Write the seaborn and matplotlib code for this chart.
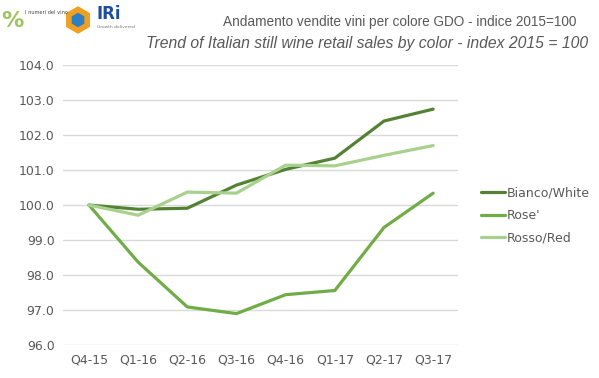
import matplotlib
matplotlib.use('Agg')
import pandas as pd
import numpy as np
import matplotlib.pyplot as plt
from matplotlib.patches import RegularPolygon
import seaborn as sns

# ---- data ----
quarters = ["Q4-15", "Q1-16", "Q2-16", "Q3-16", "Q4-16", "Q1-17", "Q2-17", "Q3-17"]
bianco = [100.0, 99.88, 99.91, 100.57, 101.02, 101.34, 102.40, 102.74]
rose = [100.0, 98.37, 97.09, 96.90, 97.44, 97.56, 99.36, 100.34]
rosso = [100.0, 99.71, 100.37, 100.34, 101.14, 101.12, 101.42, 101.70]
series_names = ["Bianco/White", "Rose'", "Rosso/Red"]
yticks = [96.0, 97.0, 98.0, 99.0, 100.0, 101.0, 102.0, 103.0, 104.0]

df = pd.DataFrame({"quarter": quarters * 3,
                   "x": list(range(len(quarters))) * 3,
                   "value": bianco + rose + rosso,
                   "colore": np.repeat(series_names, len(quarters))})

palette = {"Bianco/White": "#548235", "Rose'": "#70AD47", "Rosso/Red": "#A9D18E"}
grey = "#595959"

sns.set_theme(style="white")
plt.rcParams['font.family'] = ['DejaVu Sans']

fig = plt.figure(figsize=(5.99, 3.78), dpi=100)
ax = fig.add_axes([0.105, 0.087, 0.66, 0.741])

sns.lineplot(data=df, x="x", y="value", hue="colore", palette=palette,
             linewidth=2.3, ax=ax, legend=False)

ax.set_xlim(-0.53, 7.51)
ax.set_ylim(96.0, 104.0)
ax.set_yticks(yticks)
ax.set_yticklabels([f"{v:.1f}" for v in yticks])
ax.set_xticks(range(len(quarters)))
ax.set_xticklabels(quarters)
ax.tick_params(axis='both', length=0, labelsize=9, labelcolor=grey, pad=6)
ax.yaxis.grid(True, color="#d9d9d9", linewidth=1)
ax.set_axisbelow(True)
ax.set_xlabel("")
ax.set_ylabel("")
for s in ax.spines.values():
    s.set_visible(False)

# legend on the right
handles = [plt.Line2D([0], [0], color=palette[n], lw=2.3) for n in series_names]
fig.legend(handles, series_names, loc="center left", bbox_to_anchor=(0.785, 0.43),
           frameon=False, fontsize=9, labelcolor=grey, handlelength=1.9,
           handletextpad=0.1, labelspacing=0.75)

# titles
fig.text(0.963, 0.942, "Andamento vendite vini per colore GDO - indice 2015=100",
         ha="right", va="center", fontsize=9.8, color=grey, family="Liberation Sans")
fig.text(0.982, 0.884, "Trend of Italian still wine retail sales by color - index 2015 = 100",
         ha="right", va="center", fontsize=11.3, color=grey, style="italic",
         family="Liberation Sans")

# logo stand-ins (small axes measured in pixels)
lax = fig.add_axes([0, 1 - 40 / 378, 120 / 599, 40 / 378])
lax.set_xlim(0, 120)
lax.set_ylim(40, 0)
lax.axis("off")
lax.text(1, 21, "%", ha="left", va="center", fontsize=16, color="#9dc35a", weight="bold")
lax.text(25, 13, "I numeri del vino", ha="left", va="center", fontsize=3.6, color="#444444")
lax.add_patch(RegularPolygon((78, 20), 6, radius=13, color="#f0a020"))
lax.add_patch(RegularPolygon((78, 20), 6, radius=6.5, color="#2e7fc2"))
lax.text(97, 14, "IRi", ha="left", va="center", fontsize=12, color="#1f4e9c", weight="bold")
lax.text(97, 27, "Growth delivered", ha="left", va="center", fontsize=3.2, color="#777777")

fig.savefig("out.png", dpi=100)
